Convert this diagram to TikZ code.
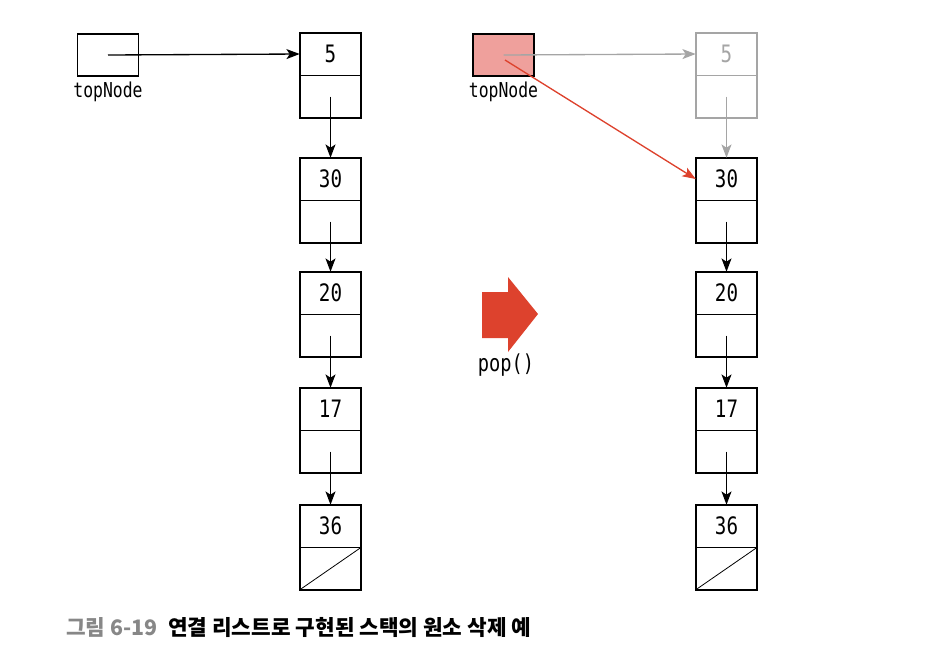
\documentclass[tikz,border=0pt]{standalone}
\usepackage{fontspec}
\usepackage{tikz}
\usetikzlibrary{positioning,arrows.meta,calc}
\newfontfamily\codefont[FakeStretch=0.8]{DejaVu Sans Mono}
\newfontfamily\krfont{Noto Sans CJK KR}
\definecolor{popred}{RGB}{221,66,45}
\definecolor{toppink}{RGB}{239,160,156}
\definecolor{oldgray}{RGB}{165,165,165}
\definecolor{capgray}{RGB}{135,135,135}
\tikzset{
  valbox/.style={minimum width=45.75pt, minimum height=31.5pt, inner sep=0pt,
    font=\codefont\fontsize{18}{20}\selectfont},
  linkbox/.style={minimum width=45.75pt, minimum height=31.5pt, inner sep=0pt},
  topbox/.style={draw, line width=1.4pt, minimum width=45.75pt, minimum height=31.5pt, inner sep=0pt},
  ptr/.style={line width=1pt, -{Stealth[length=10pt,width=7.5pt,inset=2.5pt]}},
  lbl/.style={font=\codefont\fontsize{15.4}{17}\selectfont}
}
\begin{document}
\begin{tikzpicture}[x=0.75pt,y=-0.75pt]
    \useasboundingbox (0,0) rectangle (947,669);
    % left stack
    \node[topbox] (Ltop) at (108,55) {};
    \node[lbl, below=0pt of Ltop] (Llbl) {topNode};
    \foreach \v/\y [count=\i] in {5/33,30/158,20/272,17/388,36/505}{
      \node[valbox] (L\i v) at (330.5,\y+21) {\v};
      \node[linkbox, below=0pt of L\i v] (L\i n) {};
      \draw[line width=1.4pt] (L\i v.north west) rectangle (L\i n.south east);
      \draw[line width=0.6pt] (L\i v.south west) -- (L\i v.south east);
    }
    \draw[line width=0.6pt] (L5n.south west) -- (L5n.north east);
    \draw[ptr] (Ltop.center) -- (L1v.west);
    \foreach \i/\j in {1/2,2/3,3/4,4/5}
      \draw[ptr] (L\i n.center) -- (L\j v.north);

    % pop arrow
    \fill[popred] (482,292) -- (508,292) -- (508,277) -- (538,314)
      -- (508,352) -- (508,338) -- (482,338) -- cycle;
    \node[lbl, font=\codefont\fontsize{17.5}{19}\selectfont] (pop) at (506,365) {pop()};

    % right stack
    \node[topbox, fill=toppink] (Rtop) at (503.5,55) {};
    \node[lbl, below=0pt of Rtop] (Rlbl) {topNode};
    \node[valbox, text=oldgray] (R1v) at (726.5,54) {5};
    \node[linkbox, below=0pt of R1v] (R1n) {};
    \draw[oldgray, line width=1.4pt] (R1v.north west) rectangle (R1n.south east);
    \draw[oldgray, line width=0.6pt] (R1v.south west) -- (R1v.south east);
    \foreach \v/\y [count=\i from 2] in {30/158,20/272,17/388,36/505}{
      \node[valbox] (R\i v) at (726.5,\y+21) {\v};
      \node[linkbox, below=0pt of R\i v] (R\i n) {};
      \draw[line width=1.4pt] (R\i v.north west) rectangle (R\i n.south east);
      \draw[line width=0.6pt] (R\i v.south west) -- (R\i v.south east);
    }
    \draw[line width=0.6pt] (R5n.south west) -- (R5n.north east);
    \coordinate (Rstart) at ($(Rtop.center)+(1.5,5)$);
    \draw[ptr, oldgray] (Rtop.center) -- (R1v.west);
    \draw[ptr, oldgray] (R1n.center) -- (R2v.north);
    \draw[ptr, popred] (Rstart) -- (R2v.west);
    \foreach \i/\j in {2/3,3/4,4/5}
      \draw[ptr] (R\i n.center) -- (R\j v.north);

    % caption
    \node[anchor=west, inner sep=0pt, font=\krfont\bfseries\fontsize{16}{19}\selectfont] (cap)
      at (66,627) {\textcolor{capgray}{그림 6-19}\hspace{0.5em}연결 리스트로 구현된 스택의 원소 삭제 예};
\end{tikzpicture}
\end{document}
